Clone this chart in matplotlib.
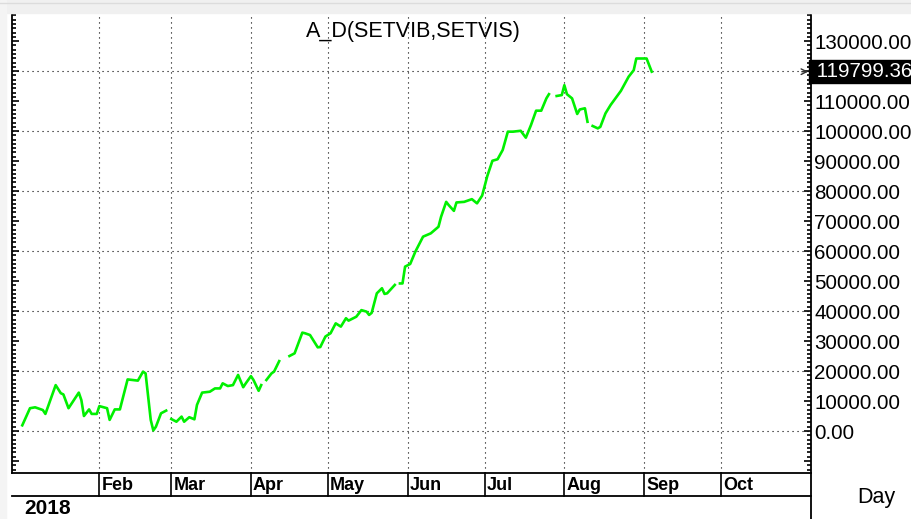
import numpy as np
import matplotlib
matplotlib.use('Agg')
import matplotlib.pyplot as plt
import matplotlib.dates as mdates
from matplotlib.transforms import blended_transform_factory
from matplotlib.lines import Line2D
from matplotlib.patches import Rectangle
from matplotlib.ticker import MultipleLocator, FuncFormatter

# A_D(SETVIB,SETVIS) daily values (nan = gap in the line)
dates = ['2018-01-02', '2018-01-05', '2018-01-07', '2018-01-10', '2018-01-11',
         '2018-01-15', '2018-01-17', '2018-01-18', '2018-01-20', '2018-01-24',
         '2018-01-25', '2018-01-26', '2018-01-28', '2018-01-29', '2018-01-31',
         '2018-02-01', '2018-02-04', '2018-02-05', '2018-02-07', '2018-02-09',
         '2018-02-12', '2018-02-16', '2018-02-18', '2018-02-19', '2018-02-21',
         '2018-02-22', '2018-02-23', '2018-02-25', '2018-02-27', '2018-02-28',
         '2018-03-01', '2018-03-03', '2018-03-05', '2018-03-06', '2018-03-08',
         '2018-03-10', '2018-03-11', '2018-03-13', '2018-03-16', '2018-03-18',
         '2018-03-20', '2018-03-21', '2018-03-23', '2018-03-25', '2018-03-27',
         '2018-03-29', '2018-03-30', '2018-04-01', '2018-04-02', '2018-04-04',
         '2018-04-05', '2018-04-06', '2018-04-07', '2018-04-09', '2018-04-10',
         '2018-04-12', '2018-04-14', '2018-04-16', '2018-04-18', '2018-04-21',
         '2018-04-22', '2018-04-24', '2018-04-27', '2018-04-28', '2018-04-30',
         '2018-05-02', '2018-05-04', '2018-05-06', '2018-05-08', '2018-05-09',
         '2018-05-12', '2018-05-14', '2018-05-16', '2018-05-17', '2018-05-18',
         '2018-05-20', '2018-05-22', '2018-05-23', '2018-05-24', '2018-05-27',
         '2018-05-28', '2018-05-29', '2018-05-30', '2018-05-31', '2018-06-02',
         '2018-06-04', '2018-06-07', '2018-06-10', '2018-06-13', '2018-06-14',
         '2018-06-16', '2018-06-17', '2018-06-19', '2018-06-20', '2018-06-23',
         '2018-06-26', '2018-06-28', '2018-06-30', '2018-07-02', '2018-07-04',
         '2018-07-06', '2018-07-08', '2018-07-10', '2018-07-12', '2018-07-15',
         '2018-07-17', '2018-07-19', '2018-07-21', '2018-07-23', '2018-07-25',
         '2018-07-26', '2018-07-28', '2018-07-29', '2018-07-31', '2018-08-01',
         '2018-08-02', '2018-08-04', '2018-08-06', '2018-08-07', '2018-08-09',
         '2018-08-10', '2018-08-11', '2018-08-12', '2018-08-14', '2018-08-15',
         '2018-08-17', '2018-08-19', '2018-08-23', '2018-08-26', '2018-08-28',
         '2018-08-29', '2018-09-02', '2018-09-04']

values = [1900, 7600, 7900, 7000, 5700,
          15300, 12600, 12200, 7600, 12800,
          10300, 5000, 7200, 5700, 5700,
          8300, 7600, 3700, 7200, 7200,
          17200, 16800, 19800, 19200, 3700,
          200, 1400, 5900, 6800, np.nan,
          4000, 3100, 4800, 3100, 4600,
          3900, 8700, 12800, 13100, 14200,
          14200, 15900, 15000, 15300, 18700,
          14600, 15900, 18300, 17000, 13400,
          15300, np.nan, 17000, 19200, 19800,
          23300, np.nan, 25000, 25900, 32800,
          32600, 32000, 27900, 28000, 31500,
          32600, 35900, 34800, 37600, 36800,
          38100, 40300, 39800, 38700, 39400,
          45900, 47600, 45700, 45900, 48700,
          np.nan, 49200, 49200, 54800, 55700,
          59800, 64800, 65900, 68100, 71400,
          76400, 75300, 73400, 76200, 76400,
          77300, 75900, 78500, 85000, 90100,
          90600, 93700, 99800, 99800, 100100,
          97800, 102000, 106800, 106800, 110900,
          112300, np.nan, 111700, 112000, 115300,
          112300, 110900, 105700, 107200, 107600,
          103100, np.nan, 101700, 100900, 101400,
          105900, 108700, 113400, 118100, 120300,
          124200, 124200, 119799.36]

month_starts = ['2018-02-01', '2018-03-01', '2018-04-01', '2018-05-01', '2018-06-01',
                '2018-07-01', '2018-08-01', '2018-09-01', '2018-10-01']
month_labels = ['Feb', 'Mar', 'Apr', 'May', 'Jun', 'Jul', 'Aug', 'Sep', 'Oct']

TITLE = 'A_D(SETVIB,SETVIS)'
W, H = 911, 519

x = mdates.datestr2num(dates)
y = np.array(values, dtype=float)
mx = mdates.datestr2num(month_starts)
last = y[-1]

plt.rcParams['font.family'] = ['Liberation Sans', 'DejaVu Sans']
narrow = ['Liberation Sans Narrow', 'Liberation Sans', 'DejaVu Sans']


def price_label(v, pos):
    # no labels below zero, and the 120000 slot is covered by the last-value box
    if v < 0 or abs(v - 120000) < 1:
        return ''
    return '%.2f' % v


fig = plt.figure(figsize=(W / 100, H / 100), dpi=100)
ax = fig.add_axes([12 / W, 1 - 473 / H, (811 - 12) / W, (473 - 15) / H])

# light grey frame around the chart window
fig.patches.append(Rectangle((0, 1 - 13 / H), 1, 13 / H, transform=fig.transFigure,
                             color='#f0f0f0', zorder=0))
fig.lines.append(Line2D([0, 1], [1 - 3 / H, 1 - 3 / H], transform=fig.transFigure,
                        color='#dcdcdc', lw=1))
fig.patches.append(Rectangle((0, 0), 6 / W, 1, transform=fig.transFigure,
                             color='#f4f4f4', zorder=0))

ax.plot(x, y, color='#00f000', lw=1.9, solid_joinstyle='round', zorder=3)

ax.set_xlim(mdates.datestr2num('2017-12-29'), mdates.datestr2num('2018-11-05'))
ax.set_ylim(-14000, 138700)

# dotted grid: month starts and every 20000
dot = dict(color='black', lw=0.8, ls=(0, (1, 3.5)), zorder=1)
for m in mx:
    ax.axvline(m, **dot)
for g in np.arange(0, 130000, 20000):
    ax.axhline(g, **dot)

ax.spines['top'].set_visible(False)
for s in ['left', 'right', 'bottom']:
    ax.spines[s].set_linewidth(1.3)

ax.set_xticks([])
ax.yaxis.set_major_locator(MultipleLocator(10000))
ax.yaxis.set_minor_locator(MultipleLocator(10000 / 7))
ax.yaxis.set_major_formatter(FuncFormatter(price_label))
ax.tick_params(axis='y', which='both', direction='in', left=True, right=True,
               labelleft=False, labelright=True, width=1.2)
ax.tick_params(axis='y', which='major', length=5, pad=2.5, labelsize=14.8)
ax.tick_params(axis='y', which='minor', length=3)

# last value box on the price scale
ax.text(1.0, last, ' %.2f' % last, transform=ax.get_yaxis_transform(),
        ha='left', va='center', color='white', fontsize=14.8,
        bbox=dict(boxstyle='square,pad=0.1', fc='black', ec='black'), clip_on=False)
ax.annotate('', xy=(1.0, last), xytext=(0.985, last),
            xycoords=ax.get_yaxis_transform(),
            arrowprops=dict(arrowstyle='->', lw=1, color='#333333'))

fig.text(413 / W, 1 - 32 / H, TITLE, ha='center', va='center', fontsize=15.5)

# date scale below the plot
tr = blended_transform_factory(ax.transData, fig.transFigure)
row_top, row_bot = 1 - 473 / H, 1 - 496 / H
for m, lab in zip(mx, month_labels):
    fig.lines.append(Line2D([m, m], [row_bot, row_top], transform=tr,
                            color='black', lw=1.2))
    fig.text(m + 0.8, 1 - 486 / H, lab, transform=tr, ha='left', va='center',
             fontsize=13, fontweight='bold', family=narrow)
fig.lines.append(Line2D([12 / W, 811 / W], [row_bot, row_bot],
                        transform=fig.transFigure, color='black', lw=1.3))
fig.lines.append(Line2D([811 / W, 811 / W], [0, row_top],
                        transform=fig.transFigure, color='black', lw=1.3))
fig.text(24 / W, 1 - 508 / H, '2018', ha='left', va='center',
         fontsize=15, fontweight='bold', family=narrow)
fig.text(876 / W, 1 - 497 / H, 'Day', ha='center', va='center',
         fontsize=15.5, family=narrow)

fig.savefig('out.png', dpi=100)
